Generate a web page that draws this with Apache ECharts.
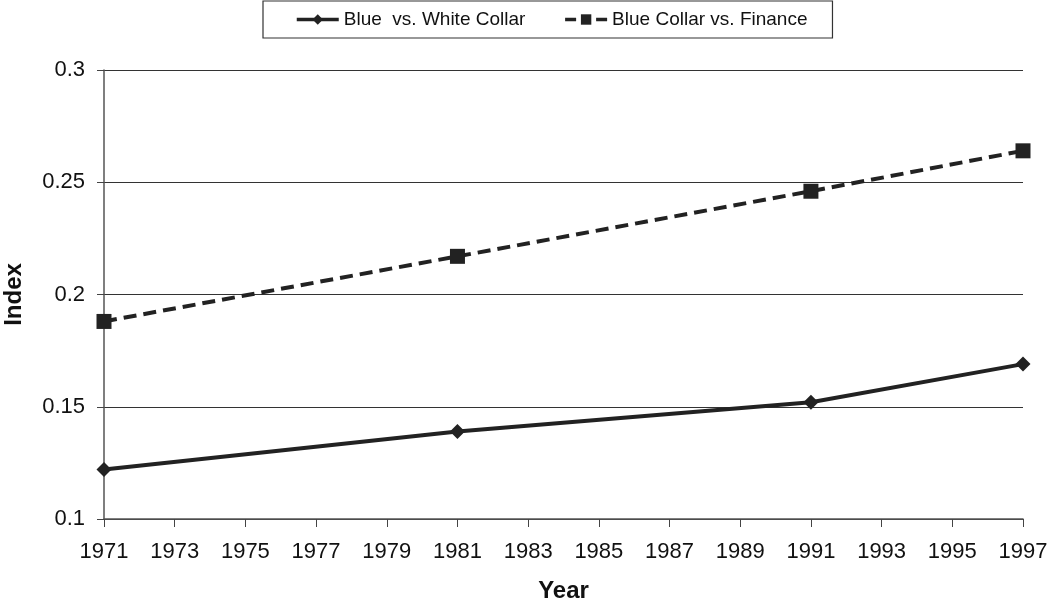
<!DOCTYPE html>
<html>
<head>
<meta charset="utf-8">
<script src="https://cdn.jsdelivr.net/npm/echarts@6/dist/echarts.min.js"></script>
<style>html,body{margin:0;padding:0;background:#fff}#c{width:1050px;height:599px}</style>
</head>
<body>
<div id="c"></div>
<script>
const BASE_YEAR = 1971;
const years = [1971, 1981, 1991, 1997];
const blueVsWhite = [0.122, 0.139, 0.152, 0.169];
const blueVsFinance = [0.188, 0.217, 0.246, 0.264];
const yTicks = [0.1, 0.15, 0.2, 0.25, 0.3];
const seriesNames = ['Blue  vs. White Collar', 'Blue Collar vs. Finance'];

const chart = echarts.init(document.getElementById('c'));
const font = 'Liberation Sans, Arial, sans-serif';
const toPts = vals => years.map((y, i) => [y - BASE_YEAR, vals[i]]);
chart.setOption({
  animation: false,
  backgroundColor: '#fff',
  textStyle: { fontFamily: font },
  legend: {
    top: 1,
    left: 263,
    itemWidth: 42,
    itemHeight: 13,
    itemGap: 38,
    padding: [9, 25, 9, 32],
    borderColor: '#333',
    borderWidth: 1.2,
    lineStyle: { width: 3.5 },
    textStyle: { fontSize: 19, color: '#111', fontFamily: font },
    data: [
      { name: seriesNames[0] },
      { name: seriesNames[1], lineStyle: { type: [11, 20] } }
    ]
  },
  grid: { left: 104, right: 27, top: 70, bottom: 80, outerBoundsMode: 'none' },
  xAxis: {
    type: 'value',
    min: 0,
    max: years[years.length - 1] - BASE_YEAR,
    interval: 2,
    name: 'Year',
    nameLocation: 'middle',
    nameGap: 60,
    nameTextStyle: { fontSize: 24, fontWeight: 'bold', color: '#111', fontFamily: font },
    axisLine: { show: true, lineStyle: { color: '#555', width: 1.5 } },
    axisTick: { show: true, length: 8, lineStyle: { color: '#444' } },
    axisLabel: { fontSize: 22, color: '#111', margin: 22, formatter: v => String(v + BASE_YEAR) },
    splitLine: { show: false }
  },
  yAxis: {
    type: 'value',
    min: yTicks[0],
    max: yTicks[yTicks.length - 1],
    interval: 0.05,
    name: 'Index',
    nameLocation: 'middle',
    nameGap: 78,
    nameTextStyle: { fontSize: 24, fontWeight: 'bold', color: '#111', fontFamily: font },
    axisLine: { show: true, lineStyle: { color: '#555', width: 1.5 } },
    axisTick: { show: true, length: 7, lineStyle: { color: '#444' } },
    axisLabel: { fontSize: 22, color: '#111', margin: 19, formatter: v => String(+v.toFixed(2)) },
    splitLine: { show: true, lineStyle: { color: '#333', width: 1.2 } }
  },
  series: [
    {
      name: seriesNames[0],
      type: 'line',
      data: toPts(blueVsWhite),
      symbol: 'diamond',
      symbolSize: 15,
      itemStyle: { color: '#222' },
      lineStyle: { color: '#222', width: 4 }
    },
    {
      name: seriesNames[1],
      type: 'line',
      data: toPts(blueVsFinance),
      symbol: 'rect',
      symbolSize: 15,
      itemStyle: { color: '#222' },
      lineStyle: { color: '#222', width: 4, type: [13, 7] }
    }
  ]
});
</script>
</body>
</html>
